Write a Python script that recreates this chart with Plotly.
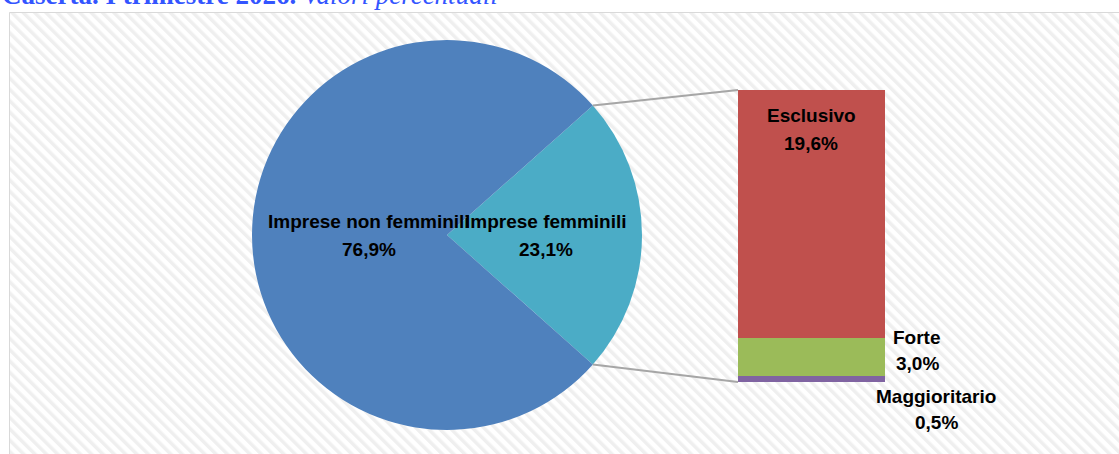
import math
import base64
import plotly.graph_objects as go

# ---------------- data ----------------
pie_labels = ["Imprese femminili", "Imprese non femminili"]
pie_values = [23.1, 76.9]
pie_colors = ["#4BACC6", "#4F81BD"]

bar_labels = ["Esclusivo", "Forte", "Maggioritario"]
bar_values = [19.6, 3.0, 0.5]
bar_colors = ["#C0504D", "#9BBB59", "#8064A2"]

title_bold = "Caserta. I trimestre 2026."
title_italic = "Valori percentuali"

# ---------------- layout geometry (pixels) ----------------
W, H = 1119, 454
PIE_X0, PIE_X1, PIE_Y0, PIE_Y1 = 252, 642, 40, 430   # from top
BAR_X0, BAR_X1, BAR_Y0, BAR_Y1 = 738, 885, 90, 382   # from top


def px(x):
    return x / W


def py(y):
    return 1 - y / H


def fmt(v):
    return f"{v:.1f}".replace(".", ",") + "%"


fig = go.Figure()

# background stripes (svg pattern image)
svg = (
    '<svg xmlns="http://www.w3.org/2000/svg" width="1110" height="442">'
    '<defs><pattern id="p" patternUnits="userSpaceOnUse" width="8" height="8" '
    'patternTransform="rotate(-45)">'
    '<rect x="0" y="0" width="8" height="8" fill="#ffffff"/>'
    '<rect x="0" y="0" width="3.5" height="8" fill="#efefef"/>'
    '</pattern></defs>'
    '<rect width="1110" height="442" fill="url(#p)"/></svg>'
)
src = "data:image/svg+xml;base64," + base64.b64encode(svg.encode()).decode()
fig.add_layout_image(
    dict(source=src, xref="paper", yref="paper", x=px(9), y=py(12),
         sizex=px(1110), sizey=442 / H, sizing="stretch", xanchor="left",
         yanchor="top", layer="below")
)
fig.add_shape(type="rect", xref="paper", yref="paper", x0=px(9.5), y0=py(470),
              x1=px(1130), y1=py(12.5), line=dict(color="#d9d9d9", width=1),
              fillcolor="rgba(0,0,0,0)", layer="below")

# pie
total = sum(pie_values)
frac = pie_values[0] / total
rotation = 90 - 360 * frac / 2
fig.add_trace(go.Pie(
    labels=pie_labels, values=pie_values, sort=False, direction="clockwise",
    rotation=rotation, marker=dict(colors=pie_colors, line=dict(width=0)),
    textinfo="none", showlegend=False,
    domain=dict(x=[px(PIE_X0), px(PIE_X1)], y=[py(PIE_Y1), py(PIE_Y0)]),
))

# stacked bar (bottom first)
for lab, val, col in reversed(list(zip(bar_labels, bar_values, bar_colors))):
    fig.add_trace(go.Bar(
        x=["Imprese femminili"], y=[val], name=lab, marker=dict(color=col, line=dict(width=0)),
        showlegend=False, xaxis="x", yaxis="y",
    ))

bar_total = sum(bar_values)

# connector lines
cx = (PIE_X0 + PIE_X1) / 2
cy = (PIE_Y0 + PIE_Y1) / 2
r = (PIE_X1 - PIE_X0) / 2
a1 = math.radians(rotation)
a2 = math.radians(rotation + 360 * frac)
p1 = (cx + r * math.sin(a1), cy - r * math.cos(a1))
p2 = (cx + r * math.sin(a2), cy - r * math.cos(a2))
for (sx, sy), ty in [(p1, BAR_Y0), (p2, BAR_Y1)]:
    fig.add_shape(type="line", xref="paper", yref="paper",
                  x0=px(sx), y0=py(sy), x1=px(BAR_X0), y1=py(ty),
                  line=dict(color="#a6a6a6", width=2))

LABEL_FONT = dict(family="Liberation Sans, Arial, sans-serif", size=19, color="#000000")


def label(text, x, y):
    fig.add_annotation(text=f"<b>{text}</b>", xref="paper", yref="paper",
                       x=px(x), y=py(y), xanchor="center", yanchor="middle",
                       showarrow=False, font=LABEL_FONT)


# pie labels
label(pie_labels[1], 369, 221)
label(fmt(pie_values[1]), 369, 250)
label(pie_labels[0], 546, 221)
label(fmt(pie_values[0]), 546, 250)

# bar labels
label(bar_labels[0], 811, 115)
label(fmt(bar_values[0]), 811, 143)
label(bar_labels[1], 917, 337)
label(fmt(bar_values[1]), 917, 363)
label(bar_labels[2], 936, 396)
label(fmt(bar_values[2]), 936, 422)

# title (cropped at top as in the reference)
fig.add_annotation(
    text=f"<b>{title_bold}</b> <i>{title_italic}</i>", xref="paper", yref="paper",
    x=0, y=py(12), xanchor="left", yanchor="bottom", showarrow=False,
    font=dict(family="Liberation Serif, Times New Roman, serif", size=27, color="#3355ff"),
)

fig.update_layout(
    width=W, height=H, margin=dict(l=0, r=0, t=0, b=0),
    paper_bgcolor="white", plot_bgcolor="rgba(0,0,0,0)",
    barmode="stack", bargap=0,
    xaxis=dict(domain=[px(BAR_X0), px(BAR_X1)], visible=False, fixedrange=True),
    yaxis=dict(domain=[py(BAR_Y1), py(BAR_Y0)], range=[0, bar_total], visible=False, fixedrange=True),
)

fig.write_html("out.html", config={"displayModeBar": False},
               post_script="document.body.style.margin='0';")
